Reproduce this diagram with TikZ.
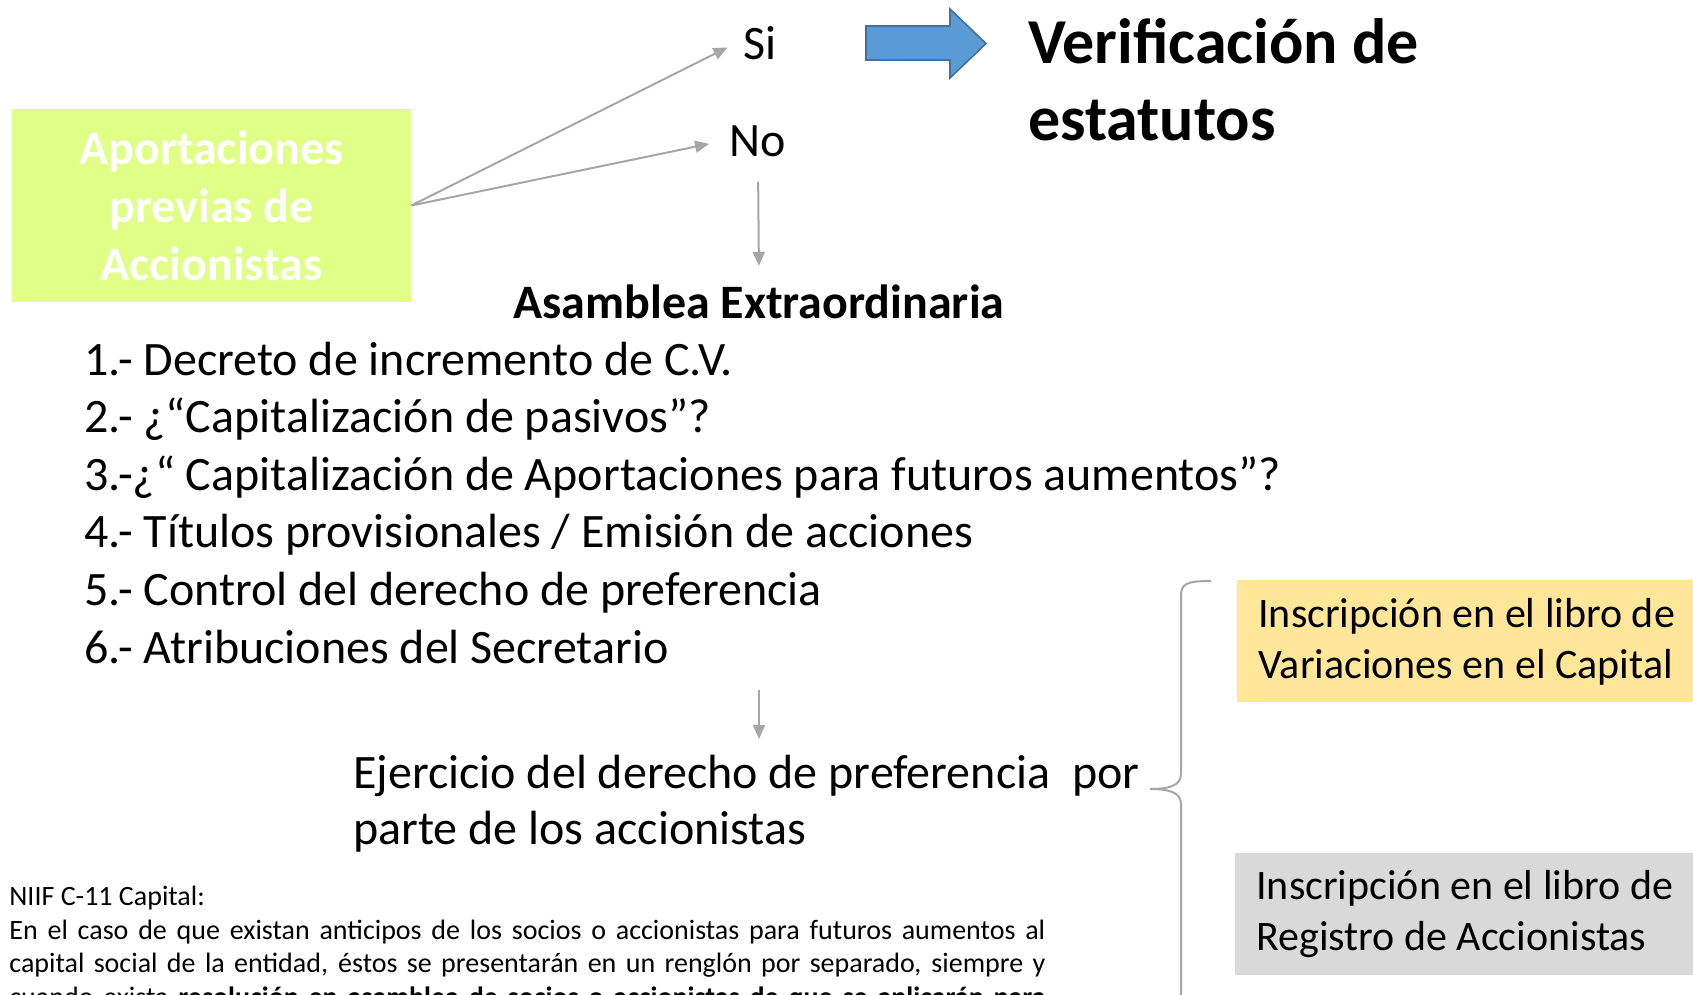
\documentclass[tikz,border=0pt]{standalone}
\usepackage{fontspec}
\setmainfont{Carlito}
\usetikzlibrary{arrows.meta}
\definecolor{lima}{HTML}{DFFF86}
\definecolor{amarillo}{HTML}{FFE699}
\definecolor{grisbox}{HTML}{D9D9D9}
\definecolor{grislinea}{HTML}{A6A6A6}
\definecolor{azul}{HTML}{5B9BD5}
\definecolor{azulborde}{HTML}{41719C}
\tikzset{
  flecha/.style={draw=grislinea, line width=1pt, -{Triangle[length=7pt,width=6pt]}},
  item/.style={anchor=base west, inner sep=0pt, font=\fontsize{24}{29}\selectfont},
  libro/.style={anchor=north west, minimum height=61pt, text width=220pt, inner xsep=10.5pt, align=flush left, font=\fontsize{21}{25.4}\selectfont}
}
\begin{document}
\begin{tikzpicture}[x=0.5pt, y=-0.5pt]
    \clip (0,0) rectangle (1693,995);

    \node [fill=lima, minimum width=199.5pt, minimum height=96.5pt, text=white, align=center,
      font=\bfseries\fontsize{24}{29}\selectfont] (aport) at (211.5,205.5) {Aportaciones\\previas de\\Accionistas};
    \node [font=\fontsize{24}{28}\selectfont] (si) at (760,43) {Si};
    \node [font=\fontsize{24}{28}\selectfont] (no) at (758,141) {No};

    \draw [flecha, shorten >=5pt] (aport.east) -- (si.west);
    \draw [flecha, shorten >=7pt] (aport.east) -- (no.west);

    % flecha azul
    \draw [fill=azul, draw=azulborde, line width=0.8pt] (866,26) -- (950,26) -- (950,9) -- (986,43.5)
      -- (950,78) -- (950,60) -- (866,60) -- cycle;
    \node [anchor=west, align=left, font=\bfseries\fontsize{32}{38.5}\selectfont] (verif) at (1021,79.5) {Verificación de\\estatutos};

    \node [font=\bfseries\fontsize{24}{28}\selectfont] (asam) at (759,302) {Asamblea Extraordinaria};
    \draw [flecha, shorten <=9pt, shorten >=6pt] (no.south) -- (asam.north);

    \foreach \n/\t in {1/{1.- Decreto de incremento de C.V.}, 2/{2.- ¿“Capitalización de pasivos”?},
      3/{3.-¿“ Capitalización de Aportaciones para futuros aumentos”?},
      4/{4.- Títulos provisionales / Emisión de acciones}, 5/{5.- Control del derecho de preferencia},
      6/{6.- Atribuciones del Secretario}}
      \node [item] (l\n) at (84, 317.4+57.6*\n) {\t};

    \node [anchor=west, align=left, inner sep=0pt, font=\fontsize{24}{28}\selectfont] (ejer) at (353,804)
      {Ejercicio del derecho de preferencia\ \ por\\parte de los accionistas};
    \draw [flecha, shorten <=13pt, shorten >=8pt] (asam |- l6.south) -- (asam |- ejer.north);

    \node [libro, fill=amarillo] (varcap) at (1237,580) {Inscripción en el libro de\\Variaciones en el Capital};
    \node [libro, fill=grisbox] (regacc) at (1235,853) {Inscripción en el libro de\\Registro de Accionistas};

    \coordinate (pico) at (1150,789);
    \draw [grislinea, line width=1pt] (1211,581) .. controls (1186,581) and (1181,584) .. (1181,596)
      -- (1181,774) .. controls (1181,786) and (1168,789) .. (pico)
      .. controls (1168,789) and (1181,792) .. (1181,804) -- (1181,1010);

    \node [anchor=north west, text width=518pt, align=justify, inner sep=0pt,
      font=\fontsize{14}{16.75}\selectfont] (niif) at (9,886) {NIIF C-11 Capital:\\
      En el caso de que existan anticipos de los socios o accionistas para futuros aumentos al\linebreak
      capital social de la entidad, éstos se presentarán en un renglón por separado, siempre y\linebreak
      cuando exista \textbf{resolución en asamblea de socios o accionistas de que se aplicarán para}\parfillskip=0pt\par};
\end{tikzpicture}
\end{document}
